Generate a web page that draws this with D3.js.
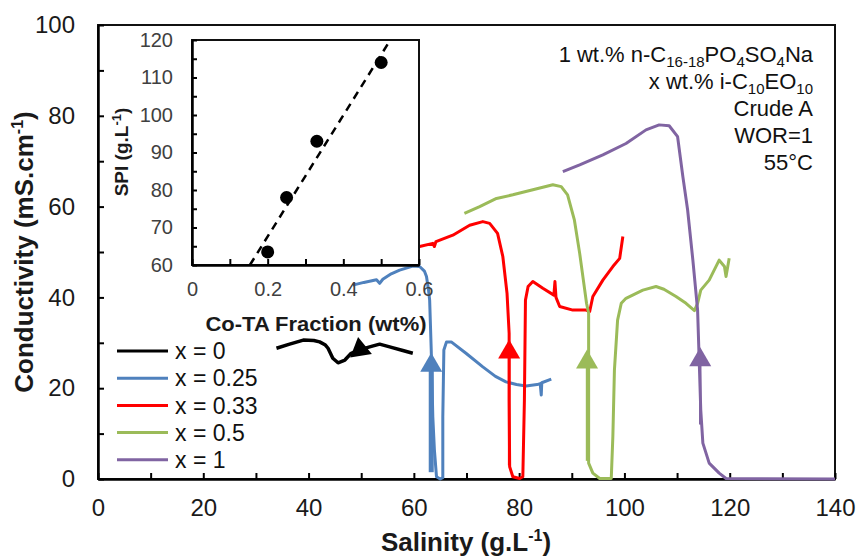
<!DOCTYPE html>
<html>
<head>
<meta charset="utf-8">
<script src="https://cdn.jsdelivr.net/npm/d3@7"></script>
<style>
  html, body { margin: 0; padding: 0; background: #fff; }
  svg { display: block; font-family: "Liberation Sans", Arial, sans-serif; }
</style>
</head>
<body>
<svg id="chart" width="859" height="557"></svg>
<script>
// ---------------- DATA ----------------
const seriesLabels = ["x = 0", "x = 0.25", "x = 0.33", "x = 0.5", "x = 1"];
const seriesColors = ["#000000", "#4F81BD", "#FF0000", "#9BBB59", "#8064A2"];

const salinity0 = [33.9,36.4,39.0,41.0,42.1,43.2,43.7,44.6,45.6,46.9,48.1,49.5,51.6,53.5,55.4,57.9,59.8];
const conduct0  = [28.8,29.7,30.6,30.5,30.2,29.5,28.8,26.6,25.6,26.2,27.7,28.4,29.1,29.7,29.1,28.3,27.7];

const salinity1 = [48.4,50.5,52.9,53.5,54.1,55.7,57.3,59.8,61.1,62.0,62.4,62.8,63.0,63.3,63.6,63.9,64.3,65.0,65.5,65.5,65.7,66.2,67.1,69.9,73.1,75.5,77.5,79.5,81.3,83.4,84.0,84.2,84.3,86.1];
const conduct1  = [42.7,43.3,43.9,43.1,44.0,45.2,46.0,46.9,46.8,45.8,44.6,41.5,39.4,28.4,13.7,6.4,0.5,0.0,0.3,13.7,28.4,30.2,30.2,27.7,24.7,22.6,21.4,20.8,20.5,20.8,21.0,18.5,21.2,22.0];

const salinity2 = [61.1,63.6,63.9,64.2,67.4,70.6,73.1,74.4,75.9,76.9,77.7,78.1,78.1,78.2,78.8,80.1,80.7,81.0,81.2,81.7,82.6,84.5,86.6,86.8,87.0,87.7,90.2,92.7,93.4,94.0,95.9,97.8,99.1,99.7];
const conduct2  = [51.2,51.9,51.2,52.3,53.7,55.9,56.7,56.3,54.1,49.0,40.9,32.1,17.4,2.7,0.5,0.1,0.5,17.4,39.4,42.4,43.5,42.0,40.5,43.5,40.0,38.0,37.2,37.2,36.9,40.2,43.8,46.8,48.6,53.4];

const salinity3 = [69.6,72.5,75.7,78.8,82.6,86.4,88.0,89.2,90.5,91.5,92.2,92.8,93.2,93.2,93.2,94.0,95.3,97.5,97.8,98.1,98.7,99.4,100.3,103.5,106.0,107.5,109.8,111.7,113.3,113.9,114.5,116.1,118.0,119.0,119.3,119.9];
const conduct3  = [58.5,60.0,61.8,62.6,63.7,64.8,64.4,62.6,57.0,49.7,43.8,38.7,36.5,24.0,3.5,1.3,0.1,0.1,9.3,24.0,35.0,38.7,39.8,41.6,42.4,41.8,40.2,38.7,37.1,38.7,41.6,43.8,48.2,46.8,44.6,48.6];

const salinity4 = [88.3,91.5,95.9,100.3,104.1,106.6,108.5,110.1,111.1,112.0,113.0,113.9,114.2,114.5,114.9,116.1,118.0,119.3,140];
const conduct4  = [67.7,69.2,71.4,73.9,76.9,78.0,77.8,75.4,66.6,59.3,48.2,37.2,26.2,15.2,7.9,3.5,1.3,0.1,0.0];

// direction arrows (triangle centre on each curve) and stem bottoms
const arrowX = [49.7, 63.3, 78.1, 92.9, 114.4];
const arrowY = [29.1, 25.6, 28.5, 26.3, 26.8];
const arrowRot = [-9, 0, 0, 0, 0];
const stemBottom = [null, 1.5, 3, 4, 12];

// main axes
const xTicks = [0, 20, 40, 60, 80, 100, 120, 140];
const yTicks = [0, 20, 40, 60, 80, 100];

// inset: SPI vs Co-TA fraction
const cotaFraction = [0.2, 0.25, 0.33, 0.5];
const spiValues    = [63.5, 78, 93, 114];
const trendX = [0.153, 0.518];
const trendY = [60, 119];
const insetXTicks = [0, 0.2, 0.4, 0.6];
const insetYTicks = [60, 70, 80, 90, 100, 110, 120];

const notes = [
  [["1 wt.% n-C"], ["16-18", "sub"], ["PO"], ["4", "sub"], ["SO"], ["4", "sub"], ["Na"]],
  [["x wt.% i-C"], ["10", "sub"], ["EO"], ["10", "sub"]],
  [["Crude A"]],
  [["WOR=1"]],
  [["55°C"]]
];

// ---------------- DRAW ----------------
const svg = d3.select("#chart");
const x = d3.scaleLinear().domain([0, 140]).range([98, 835]);
const y = d3.scaleLinear().domain([0, 100]).range([479, 25]);

// frame (top/right)
svg.append("rect").attr("x", 98).attr("y", 25).attr("width", 835 - 98).attr("height", 479 - 25)
  .attr("fill", "none").attr("stroke", "#111").attr("stroke-width", 2);

// axes
const xAxis = d3.axisBottom(x).tickValues(d3.range(0, 141, 10)).tickSizeInner(-6).tickSizeOuter(0)
  .tickFormat(d => xTicks.includes(d) ? d : "");
const gx = svg.append("g").attr("transform", "translate(0,479)").call(xAxis);
gx.select(".domain").attr("stroke", "#000").attr("stroke-width", 2.5);
gx.selectAll(".tick line").attr("stroke", "#000").attr("stroke-width", 2);
gx.selectAll(".tick text").attr("font-size", 24).attr("fill", "#1a1a1a")
  .attr("font-family", "Liberation Sans, Arial, sans-serif").attr("y", 20).attr("dy", "0.71em");

const yAxis = d3.axisLeft(y).tickValues(d3.range(0, 101, 10)).tickSizeInner(-6).tickSizeOuter(0)
  .tickFormat(d => yTicks.includes(d) ? d : "");
const gy = svg.append("g").attr("transform", "translate(98,0)").call(yAxis);
gy.select(".domain").attr("stroke", "#000").attr("stroke-width", 2.5);
gy.selectAll(".tick line").attr("stroke", "#000").attr("stroke-width", 2);
gy.selectAll(".tick text").attr("font-size", 24).attr("fill", "#1a1a1a")
  .attr("font-family", "Liberation Sans, Arial, sans-serif").attr("x", -23);

// axis titles
const xt = svg.append("text").attr("x", 466).attr("y", 551).attr("text-anchor", "middle")
  .attr("font-size", 26).attr("font-weight", "bold").attr("fill", "#1a1a1a");
xt.append("tspan").text("Salinity (g.L");
xt.append("tspan").attr("dy", -10).attr("font-size", 16).text("-1");
xt.append("tspan").attr("dy", 10).text(")");

const yt = svg.append("text").attr("transform", "translate(33,252) rotate(-90)").attr("text-anchor", "middle")
  .attr("font-size", 26).attr("font-weight", "bold").attr("fill", "#1a1a1a");
yt.append("tspan").text("Conductivity (mS.cm");
yt.append("tspan").attr("dy", -10).attr("font-size", 16).text("-1");
yt.append("tspan").attr("dy", 10).text(")");

// curves
const allX = [salinity0, salinity1, salinity2, salinity3, salinity4];
const allY = [conduct0, conduct1, conduct2, conduct3, conduct4];
const line = d3.line().x(d => x(d[0])).y(d => y(d[1]));
allX.forEach((xs, i) => {
  const pts = xs.map((v, j) => [v, allY[i][j]]);
  svg.append("path").datum(pts).attr("d", line).attr("fill", "none")
    .attr("stroke", seriesColors[i]).attr("stroke-width", i === 0 ? 3.5 : 3).attr("stroke-linejoin", "round");
});

// arrow stems + triangles
arrowX.forEach((ax, i) => {
  const cx = x(ax), cy = y(arrowY[i]);
  if (stemBottom[i] !== null) {
    svg.append("line").attr("x1", cx).attr("x2", cx).attr("y1", y(stemBottom[i])).attr("y2", cy)
      .attr("stroke", seriesColors[i]).attr("stroke-width", i === 1 ? 5 : 2.5);
  }
  svg.append("path").attr("d", "M0,-10 L11,9 L-11,9 Z")
    .attr("transform", `translate(${cx},${cy}) rotate(${arrowRot[i]})`)
    .attr("fill", seriesColors[i]);
});

// legend
seriesLabels.forEach((lab, i) => {
  const ly = 351 + i * 27.2;
  svg.append("line").attr("x1", 117).attr("x2", 168).attr("y1", ly).attr("y2", ly)
    .attr("stroke", seriesColors[i]).attr("stroke-width", 3);
  svg.append("text").attr("x", 175).attr("y", ly).attr("dy", "0.36em")
    .attr("font-size", 23).attr("fill", "#111").text(lab);
});

// notes
notes.forEach((parts, i) => {
  const t = svg.append("text").attr("x", 813).attr("y", 62 + i * 27).attr("text-anchor", "end")
    .attr("font-size", 22).attr("fill", "#111");
  let shifted = false;
  parts.forEach(p => {
    const ts = t.append("tspan").text(p[0]);
    if (p[1] === "sub") {
      ts.attr("font-size", 15);
      if (!shifted) { ts.attr("dy", 5); shifted = true; }
    } else if (shifted) { ts.attr("dy", -5); shifted = false; }
  });
});

// ---------------- INSET ----------------
const ix = d3.scaleLinear().domain([0, 0.6]).range([192, 419]);
const iy = d3.scaleLinear().domain([60, 120]).range([265, 40]);
svg.append("rect").attr("x", 192).attr("y", 40).attr("width", 419 - 192).attr("height", 265 - 40)
  .attr("fill", "#fff").attr("stroke", "#111").attr("stroke-width", 2);

const ixAxis = d3.axisBottom(ix).tickValues(d3.range(0, 0.61, 0.1)).tickSizeInner(-6).tickSizeOuter(0)
  .tickFormat(d => insetXTicks.some(t => Math.abs(t - d) < 1e-6) ? d3.format("")(+d.toFixed(1)) : "");
const gix = svg.append("g").attr("transform", "translate(0,265)").call(ixAxis);
gix.select(".domain").attr("stroke", "#000").attr("stroke-width", 2.5);
gix.selectAll(".tick line").attr("stroke", "#000").attr("stroke-width", 2);
gix.selectAll(".tick text").attr("font-size", 20).attr("fill", "#404040")
  .attr("font-family", "Liberation Sans, Arial, sans-serif").attr("y", 17).attr("dy", "0.71em");

const iyAxis = d3.axisLeft(iy).tickValues(d3.range(60, 121, 5)).tickSizeInner(-5).tickSizeOuter(0)
  .tickFormat(d => insetYTicks.includes(d) ? d : "");
const giy = svg.append("g").attr("transform", "translate(192,0)").call(iyAxis);
giy.select(".domain").attr("stroke", "#000").attr("stroke-width", 2.5);
giy.selectAll(".tick line").attr("stroke", "#000").attr("stroke-width", 2);
giy.selectAll(".tick text").attr("font-size", 20).attr("fill", "#404040")
  .attr("font-family", "Liberation Sans, Arial, sans-serif").attr("x", -19);

// trend line
svg.append("line").attr("x1", ix(trendX[0])).attr("y1", iy(trendY[0]))
  .attr("x2", ix(trendX[1])).attr("y2", iy(trendY[1]))
  .attr("stroke", "#000").attr("stroke-width", 2.5).attr("stroke-dasharray", "8,6");

// points
cotaFraction.forEach((f, i) => {
  svg.append("circle").attr("cx", ix(f)).attr("cy", iy(spiValues[i])).attr("r", 6.5).attr("fill", "#000");
});

// inset titles
svg.append("text").attr("x", 316).attr("y", 331).attr("text-anchor", "middle")
  .attr("font-size", 20).attr("font-weight", "bold").attr("fill", "#1a1a1a")
  .attr("textLength", 221).attr("lengthAdjust", "spacingAndGlyphs").text("Co-TA Fraction (wt%)");
const iyt = svg.append("text").attr("transform", "translate(128,152) rotate(-90)").attr("text-anchor", "middle")
  .attr("font-size", 19).attr("font-weight", "bold").attr("fill", "#1a1a1a");
iyt.append("tspan").text("SPI (g.L");
iyt.append("tspan").attr("dy", -7).attr("font-size", 13).text("-1");
iyt.append("tspan").attr("dy", 7).text(")");
</script>
</body>
</html>
